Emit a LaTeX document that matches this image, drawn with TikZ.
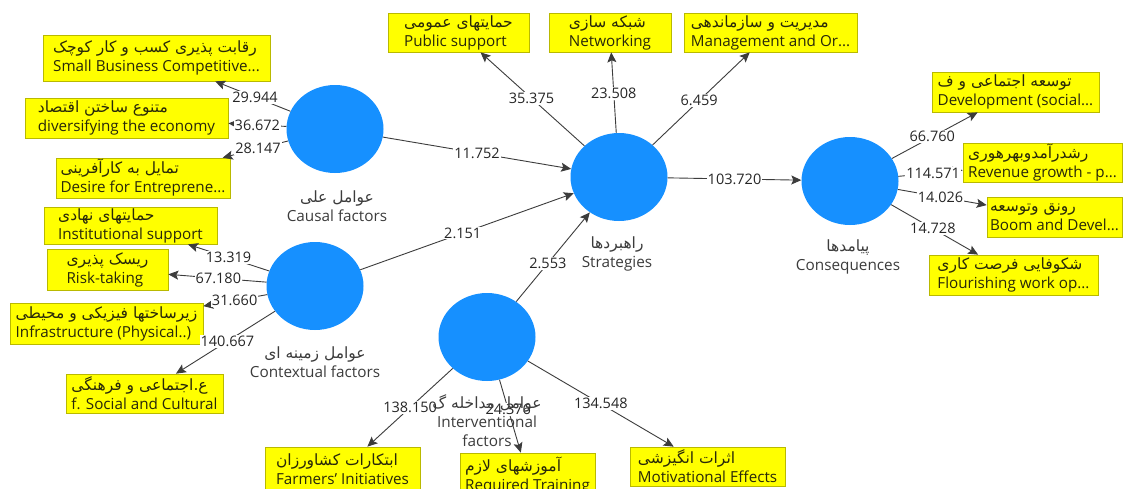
\documentclass[tikz,border=0pt]{standalone}
\usepackage{fontspec}
\setmainfont{Open Sans}
\newfontfamily\fafont[Script=Arabic]{DejaVu Sans}
\TeXXeTstate=1
\usetikzlibrary{shapes.geometric,arrows.meta}
\definecolor{lvblue}{RGB}{22,144,255}
\definecolor{boxyellow}{RGB}{255,255,0}
\definecolor{boxborder}{RGB}{185,185,0}
\definecolor{boxtext}{RGB}{40,40,10}
\definecolor{edgegray}{RGB}{60,60,60}
\definecolor{labgray}{RGB}{60,60,60}
\newcommand{\fatxt}[1]{{\fafont\fontsize{15.5}{19}\selectfont\beginR #1\endR}}
\begin{document}
\begin{tikzpicture}[x=1pt,y=-1pt,
  lv/.style={ellipse, fill=lvblue, minimum width=97pt, minimum height=88pt, inner sep=0pt},
  ind/.style={draw=boxborder, fill=boxyellow, line width=0.7pt, inner sep=1pt, align=left,
    text=boxtext, font=\fontsize{15.2}{19}\selectfont},
  edge/.style={draw=edgegray, line width=0.9pt, -{Stealth[length=10pt,width=9pt,inset=2pt]}},
  val/.style={fill=white, inner sep=1pt, text=black!85, font=\fontsize{14.5}{16}\selectfont},
  lvlab/.style={align=center, text=labgray, font=\fontsize{15.3}{19}\selectfont, inner sep=0pt}]
\useasboundingbox (0,0) rectangle (1126,488);
\clip (0,0) rectangle (1126,488);
\fill[white] (0,0) rectangle (1126,488);

% latent variables
\node[lv] (causal) at (335,129) {};
\node[lv] (strat) at (619,177) {};
\node[lv] (cons) at (850,181) {};
\node[lv] (ctx) at (315,286) {};
\node[lv] (intv) at (487,337) {};

% indicators: causal
\node[ind, minimum width=227pt, minimum height=46pt] (c1) at (156.5,58) {\fatxt{رقابت پذیری کسب و کار کوچک}\\Small Business Competitive...};
\node[ind, minimum width=203pt, minimum height=40pt] (c2) at (126.5,118) {\fatxt{متنوع ساختن اقتصاد}\\diversifying the economy};
\node[ind, minimum width=174pt, minimum height=40pt] (c3) at (143,178) {\fatxt{تمایل به کارآفرینی}\\Desire for Entreprene...};
% strategies
\node[ind, minimum width=141pt, minimum height=39pt] (s1) at (458.5,32.5) {\fatxt{حمایتهای عمومی}\\Public support};
\node[ind, minimum width=122pt, minimum height=39pt] (s2) at (610,32.5) {\fatxt{شبکه سازی}\\Networking};
\node[ind, minimum width=173pt, minimum height=39pt] (s3) at (770.5,32.5) {\fatxt{مدیریت و سازماندهی}\\Management and Or...};
% consequences
\node[ind, minimum width=167pt, minimum height=40pt] (q1) at (1015.5,92) {\fatxt{توسعه اجتماعی و ف}\\Development (social...};
\node[ind, minimum width=159pt, minimum height=39pt] (q2) at (1042.5,162.5) {\fatxt{رشدرآمدوبهرهوری}\\Revenue growth - p...};
\node[ind, minimum width=135pt, minimum height=40pt] (q3) at (1054.5,217) {\fatxt{رونق وتوسعه}\\Boom and Devel...};
\node[ind, minimum width=169pt, minimum height=40pt] (q4) at (1013.5,275) {\fatxt{شکوفایی فرصت کاری}\\Flourishing work op...};
% contextual
\node[ind, minimum width=173pt, minimum height=37pt] (x1) at (130.5,225.5) {\fatxt{حمایتهای نهادی}\\Institutional support};
\node[ind, minimum width=121pt, minimum height=41pt] (x2) at (107.5,269.5) {\fatxt{ریسک پذیری}\\Risk-taking};
\node[ind, minimum width=193pt, minimum height=41pt] (x3) at (106.5,323.5) {\fatxt{زیرساختها فیزیکی و محیطی}\\Infrastructure (Physical..)};
\node[ind, minimum width=157pt, minimum height=39pt] (x4) at (144.5,393.5) {\fatxt{ع.اجتماعی و فرهنگی}\\f. Social and Cultural};
% interventional
\node[ind, minimum width=155pt, minimum height=45pt] (i1) at (342.5,469.5) {\fatxt{ابتکارات کشاورزان}\\Farmers' Initiatives};
\node[ind, minimum width=135pt, minimum height=45pt] (i2) at (527.5,475.5) {\fatxt{آموزشهای لازم}\\Required Training};
\node[ind, minimum width=155pt, minimum height=39pt] (i3) at (707.5,466.5) {\fatxt{اثرات انگیزشی}\\Motivational Effects};

% structural paths
\draw[edge] (causal) -- node[val,pos=0.50]{11.752} (strat);
\draw[edge] (ctx) -- node[val,pos=0.48]{2.151} (strat);
\draw[edge] (intv) -- node[val,pos=0.43]{2.553} (strat);
\draw[edge] (strat) -- node[val,pos=0.50]{103.720} (cons);

% outer loadings
\draw[edge] (causal) -- node[val,pos=0.47]{29.944} (c1);
\draw[edge] (causal) -- node[val,pos=0.50]{36.672} (c2);
\draw[edge] (causal) -- node[val,pos=0.46]{28.147} (c3);
\draw[edge] (strat) -- node[val,pos=0.51]{35.375} (s1);
\draw[edge] (strat) -- node[val,pos=0.49]{23.508} (s2);
\draw[edge] (strat) -- node[val,pos=0.48]{6.459} (s3);
\draw[edge] (cons) -- node[val,pos=0.47]{66.760} (q1);
\draw[edge] (cons) -- node[val,pos=0.54]{114.571} (q2);
\draw[edge] (cons) -- node[val,pos=0.48]{14.026} (q3);
\draw[edge] (cons) -- node[val,pos=0.48]{14.728} (q4);
\draw[edge] (ctx) -- node[val,pos=0.50]{13.319} (x1);
\draw[edge] (ctx) -- node[val,pos=0.49]{67.180} (x2);
\draw[edge] (ctx) -- node[val,pos=0.51]{31.660} (x3);
\draw[edge] (ctx) -- node[val,pos=0.48]{140.667} (x4);
\draw[edge] (intv) -- node[val,pos=0.50]{138.150} (i1);
\draw[edge] (intv) -- node[val,pos=0.41]{24.376} (i2);
\draw[edge] (intv) -- node[val,pos=0.50]{134.548} (i3);

% latent labels
\node[lvlab] (causallab) at (337,206) {\fatxt{عوامل علی}\\Causal factors};
\node[lvlab] (stratlab) at (617,254) {\fatxt{راهبردها}\\Strategies};
\node[lvlab] (conslab) at (848,256.5) {\fatxt{پیامدها}\\Consequences};
\node[lvlab] (ctxlab) at (315,362.5) {\fatxt{عوامل زمینه ای}\\Contextual factors};
\node[lvlab] (intvlab) at (487,421) {\fatxt{عوامل مداخله گ}\\Interventional\\factors};
\end{tikzpicture}
\end{document}
